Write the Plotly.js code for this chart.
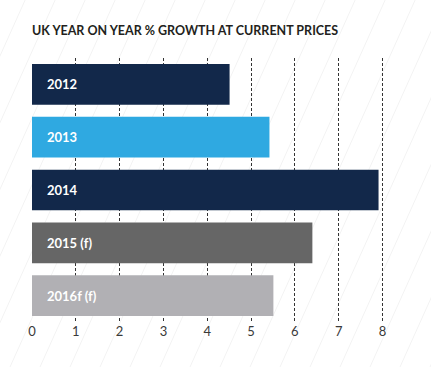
<!DOCTYPE html>
<html><head><meta charset="utf-8">
<script src="https://cdn.plot.ly/plotly-3.0.1.min.js"></script>
<style>html,body{margin:0;padding:0;background:#fff;}#chart{width:431px;height:367px;}</style>
</head><body><div id="chart"></div>
<script>
const categories = ['2012', '2013', '2014', '2015 (f)', '2016f (f)'];
const growth = [4.51, 5.42, 7.91, 6.40, 5.51];
const barColors = ['#12284a', '#2fa9e1', '#12284a', '#666666', '#b1b0b4'];
const tickValues = [0, 1, 2, 3, 4, 5, 6, 7, 8];
const tickLabels = ['0', '1', '2', '3', '4', '5', '6', '7', '8'];

// decorative faint diagonal hatch in the background
const W = 431, H = 367, L = 32, R = 35, T = 58, B = 45;
const pw = W - L - R, ph = H - T - B;
const shapes = [];
for (let px = -200; px < W + 50; px += 30) {
  const x0 = px, y0 = H, x1 = px + 0.45 * H, y1 = 0;
  shapes.push({type: 'line', xref: 'paper', yref: 'paper', layer: 'below',
    x0: (x0 - L) / pw, y0: (H - B - y0) / ph, x1: (x1 - L) / pw, y1: (H - B - y1) / ph,
    line: {color: '#f3f3f3', width: 1}});
}

const annotations = categories.map((c, i) => ({
  x: 0, y: i, xref: 'x', yref: 'y', text: '<b>' + c + '</b>', showarrow: false,
  xanchor: 'left', xshift: 13, font: {family: 'Lato, sans-serif', size: 13, color: '#ffffff'}
}));

const data = [{
  type: 'bar', orientation: 'h', x: growth, y: categories,
  marker: {color: barColors, line: {width: 0}}, hoverinfo: 'skip'
}];

const layout = {
  width: W, height: H,
  margin: {l: L, r: R, t: T, b: B, pad: 0},
  paper_bgcolor: '#ffffff', plot_bgcolor: 'rgba(0,0,0,0)',
  showlegend: false, bargap: 0.23,
  title: {text: '<b>UK YEAR ON YEAR % GROWTH AT CURRENT PRICES</b>', x: 32 / W, xanchor: 'left',
    y: 1 - 31 / H, yanchor: 'middle', font: {family: 'Lato, sans-serif', size: 12.5, color: '#231f20'}},
  xaxis: {range: [0, pw / 43.81], tickvals: tickValues, ticktext: tickLabels,
    showgrid: true, gridcolor: '#333333', gridwidth: 1, griddash: '3px,2px',
    zeroline: false, showline: false, ticks: '', ticklen: 0,
    tickfont: {family: 'Lato, sans-serif', size: 13, color: '#3a3a3a'}, fixedrange: true},
  yaxis: {type: 'category', range: [4.5, -0.5], showticklabels: false, showgrid: false,
    zeroline: false, showline: false, ticks: '', fixedrange: true},
  shapes: shapes, annotations: annotations
};

Plotly.newPlot('chart', data, layout, {displayModeBar: false, staticPlot: true});
</script></body></html>
